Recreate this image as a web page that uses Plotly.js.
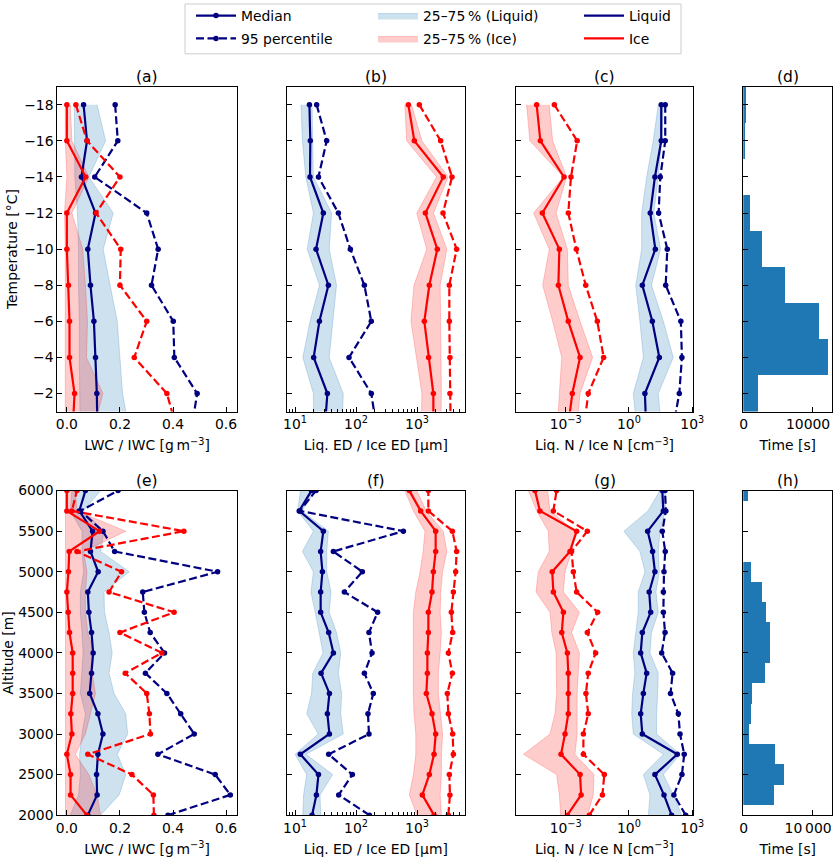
<!DOCTYPE html>
<html>
<head>
<meta charset="utf-8">
<script src="https://cdn.plot.ly/plotly-3.0.1.min.js"></script>
<style>html,body{margin:0;padding:0;background:#fff}</style>
</head>
<body>
<div id="chart" style="width:834px;height:861px"></div>
<script>
// ---- data: temperature profiles (levels in °C) ----
const TEMP = [-18, -16, -14, -12, -10, -8, -6, -4, -2, 0];

const lwcMed = [0.063, 0.076, 0.055, 0.108, 0.079, 0.089, 0.102, 0.108, 0.113, 0.115];
const lwcP95 = [0.182, 0.192, 0.105, 0.301, 0.344, 0.319, 0.401, 0.405, 0.491, 0.469];
const lwcLo  = [0.028, 0.028, 0.030, 0.040, 0.044, 0.044, 0.047, 0.047, 0.050, 0.050];
const lwcHi  = [0.114, 0.146, 0.083, 0.175, 0.137, 0.163, 0.190, 0.200, 0.210, 0.235];
const iwcMed = [0.0, 0.0, 0.071, 0.0, 0.0, 0.006, 0.010, 0.010, 0.029, 0.022];
const iwcP95 = [0.034, 0.076, 0.200, 0.110, 0.203, 0.200, 0.301, 0.254, 0.377, 0.415];
const iwcLo  = [-0.006, -0.006, 0.0, -0.009, -0.006, -0.006, -0.006, -0.006, -0.006, -0.006];
const iwcHi  = [0.013, 0.019, 0.083, 0.019, 0.060, 0.070, 0.078, 0.074, 0.136, 0.100];

const liqEdMed = [17.2, 17.8, 17.6, 29.1, 22.1, 35.2, 25.1, 20.2, 33.9, 30.6];
const liqEdP95 = [22.6, 33.0, 24.2, 51.3, 80.7, 137, 178, 76.7, 178, 219];
const liqEdLo  = [12.5, 13.2, 15.0, 20.0, 15.8, 25.1, 17.6, 13.4, 20.0, 20.0];
const liqEdHi  = [19.0, 19.5, 20.0, 39.8, 36.3, 47.9, 41.4, 36.3, 61.7, 58.9];
const iceEdMed = [721, 904, 2692, 1371, 2153, 1592, 1318, 1549, 1854, 1854];
const iceEdP95 = [1091, 2443, 3750, 2667, 4467, 3388, 3388, 3467, 3467, 3565];
const iceEdLo  = [631, 676, 2089, 989, 1445, 891, 794, 989, 1202, 1175];
const iceEdHi  = [813, 1202, 3236, 1862, 3090, 2399, 2399, 2455, 2512, 2455];

const iceNMed = [4.2e-5, 6.3e-5, 8.3e-4, 7.8e-5, 5.0e-4, 4.5e-4, 1.33e-3, 4.8e-3, 2.06e-3, 1.24e-3];
const iceNP95 = [2.9e-4, 3.5e-3, 1.78e-3, 1.33e-3, 3.2e-3, 8.9e-3, 0.0316, 0.063, 0.0117, 7.1e-3];
const iceNLo  = [1.4e-5, 2.0e-5, 7.8e-4, 3.0e-5, 1.66e-4, 8.1e-5, 2.4e-4, 6.5e-4, 5.0e-4, 4.0e-4];
const iceNHi  = [1.66e-4, 2.4e-4, 1.12e-3, 3.5e-4, 1.2e-3, 1.33e-3, 4.8e-3, 0.019, 4.8e-3, 3.3e-3];
const liqNMed = [33.9, 33.9, 17.0, 10.2, 17.8, 4.3, 12.8, 27.5, 5.7, 6.6];
const liqNP95 = [52.5, 52.5, 30.5, 25.5, 65.6, 55.0, 288, 324, 243, 117];
const liqNLo  = [24.5, 14.1, 6.9, 4.0, 4.0, 2.1, 3.3, 4.8, 1.6, 2.3];
const liqNHi  = [42.7, 35.5, 24.5, 15.1, 31.6, 11.7, 42.7, 126, 24.5, 35.5];

const TEMP_BINS = [-18, -16, -14, -12, -10, -8, -6, -4, -2];
const timeTemp  = [390, 240, 0, 970, 2710, 6040, 10970, 12320, 2090];

// ---- data: altitude profiles (levels in m) ----
const ALT = [2000, 2250, 2500, 2750, 3000, 3250, 3500, 3750, 4000, 4250, 4500, 4750, 5000, 5250, 5500, 5750, 6000];

const altLwcMed = [0.079, 0.114, 0.112, 0.117, 0.136, 0.117, 0.086, 0.093, 0.099, 0.093, 0.083, 0.079, 0.118, 0.089, 0.097, 0.047, 0.070];
const altLwcP95 = [0.381, 0.616, 0.559, 0.343, 0.480, 0.429, 0.377, 0.296, 0.368, 0.314, 0.292, 0.286, 0.568, 0.180, 0.136, 0.051, 0.193];
const altLwcLo  = [0.013, 0.044, 0.051, 0.048, 0.057, 0.070, 0.051, 0.057, 0.061, 0.057, 0.051, 0.051, 0.063, 0.057, 0.057, 0.013, 0.019];
const altLwcHi  = [0.127, 0.197, 0.222, 0.190, 0.229, 0.222, 0.178, 0.159, 0.171, 0.159, 0.142, 0.140, 0.235, 0.127, 0.140, 0.063, 0.127];
const altIwcMed = [0.075, 0.014, 0.014, 0.0, 0.019, 0.015, 0.022, 0.022, 0.022, 0.010, 0.005, 0.0, 0.006, 0.009, 0.123, 0.0, 0.0];
const altIwcP95 = [0.328, 0.326, 0.245, 0.079, 0.315, 0.311, 0.301, 0.220, 0.358, 0.200, 0.404, 0.159, 0.206, 0.038, 0.441, 0.019, 0.038];
const altIwcLo  = [-0.005, -0.005, -0.005, -0.005, -0.005, -0.005, -0.005, -0.005, -0.005, -0.005, -0.005, -0.005, -0.005, -0.005, -0.005, -0.005, -0.005];
const altIwcHi  = [0.127, 0.114, 0.083, 0.032, 0.070, 0.089, 0.108, 0.095, 0.102, 0.079, 0.070, 0.070, 0.076, 0.063, 0.222, 0.038, 0.032];

const altLiqEdMed = [19.0, 22.4, 24.2, 12.2, 36.6, 33.9, 36.6, 26.7, 42.5, 35.6, 26.3, 26.3, 28.1, 26.3, 29.1, 11.7, 18.6];
const altLiqEdP95 = [166, 52.0, 87.1, 35.6, 163, 157, 192, 137, 183, 163, 226, 64.4, 127, 42.5, 597, 12.0, 22.1];
const altLiqEdLo  = [13.4, 13.8, 15.5, 10.0, 24.0, 15.5, 18.6, 19.5, 28.8, 25.1, 21.4, 18.2, 20.0, 13.2, 20.0, 11.0, 12.3];
const altLiqEdHi  = [26.3, 25.7, 41.4, 15.1, 61.7, 56.2, 58.2, 51.3, 56.2, 47.9, 36.3, 38.9, 33.1, 33.1, 35.2, 12.9, 21.4];
const altIceEdMed = [1901, 1222, 1592, 1901, 2023, 1762, 1422, 1479, 1479, 1535, 1535, 1762, 1854, 2023, 2023, 1148, 748];
const altIceEdP95 = [3266, 3467, 3388, 3945, 3846, 3266, 3141, 3802, 3266, 3846, 3656, 3945, 4305, 4467, 3802, 1535, 1535];
const altIceEdLo  = [1000, 748, 871, 955, 955, 891, 871, 871, 851, 851, 871, 955, 1122, 1259, 1349, 871, 631];
const altIceEdHi  = [2512, 2399, 2512, 2512, 2630, 2399, 2239, 2239, 2399, 2512, 2399, 2455, 2630, 3090, 2692, 1413, 989];

const altIceNMed = [1.2e-3, 5.4e-3, 4.8e-3, 6.0e-4, 9.3e-4, 1.33e-3, 1.33e-3, 1.33e-3, 1.2e-3, 6.5e-4, 7.8e-4, 2.6e-4, 2.3e-4, 1.6e-3, 3.3e-3, 6.0e-5, 3.5e-5];
const altIceNP95 = [0.0132, 0.055, 0.0676, 6.9e-3, 6.9e-3, 0.0117, 9.1e-3, 0.0117, 0.0263, 0.0106, 0.0327, 3.3e-3, 2.3e-3, 1.9e-3, 0.0106, 2.6e-4, 3.7e-4];
const altIceNLo  = [5.8e-4, 5.0e-4, 3.7e-4, 1.0e-5, 1.8e-4, 3.1e-4, 3.7e-4, 3.5e-4, 3.5e-4, 2.2e-4, 1.8e-4, 3.9e-5, 5.0e-5, 1.66e-4, 1.5e-4, 4.2e-5, 1.7e-5];
const altIceNHi  = [0.011, 0.0204, 0.0219, 2.75e-3, 3.5e-3, 3.5e-3, 3.5e-3, 4.0e-3, 4.5e-3, 1.9e-3, 4.5e-3, 7.8e-4, 9.3e-4, 1.9e-3, 2.75e-3, 1.8e-4, 1.4e-4];
const altLiqNMed = [105, 45.7, 17.0, 195, 4.3, 3.6, 4.8, 6.9, 3.6, 4.3, 10.7, 9.1, 17.0, 13.2, 7.7, 42.7, 38.0];
const altLiqNP95 = [490, 135, 324, 417, 263, 219, 93.3, 117, 35.5, 51.3, 42.7, 42.7, 45.7, 52.5, 38.0, 56.2, 51.3];
const altLiqNLo  = [8.3, 9.9, 4.8, 42.7, 1.6, 1.35, 1.48, 1.9, 1.6, 2.14, 2.75, 2.75, 5.75, 3.3, 0.575, 7.9, 29.5];
const altLiqNHi  = [316, 126, 42.7, 263, 20.4, 20.4, 22.9, 24.5, 9.9, 11.7, 24.5, 19.1, 27.5, 24.5, 29.5, 52.5, 55];

const timeAlt = [0, 4440, 5890, 4590, 820, 1060, 1210, 3090, 3820, 3850, 3240, 2660, 1060, 0, 0, 0, 630];

// ---- styling ----
const W = 834, H = 861;
const FONT = "DejaVu Sans, sans-serif";
const FS = 13.9;
const NAVY = "#000080";
const RED = "#ff0000";
const LIQ_FILL = "rgba(31,119,180,0.22)";
const ICE_FILL = "rgba(255,0,0,0.2)";
const BAR = "#1f77b4";
const DASH = "8px,3.5px";

const xd = (a, b) => [a / W, b / W];
const yd = (top, bottom) => [1 - bottom / H, 1 - top / H];

const COLS = [xd(57.3, 236.7), xd(286.7, 465), xd(515.7, 693.3), xd(743.3, 832.3)];
const ROWS = [yd(84, 410), yd(489.3, 815)];

const ax = n => (n === 1 ? "" : String(n));

function band(lo, hi, y, fill, n, extra) {
    return Object.assign({
        x: lo.concat(hi.slice().reverse()),
        y: y.concat(y.slice().reverse()),
        xaxis: "x" + ax(n),
        yaxis: "y" + ax(n),
        type: "scatter",
        mode: "lines",
        fill: "toself",
        fillcolor: fill,
        line: {color: fill, width: 1},
        hoverinfo: "skip",
        showlegend: false
    }, extra || {});
}

function profile(x, y, color, dashed, n, extra) {
    return Object.assign({
        x, y,
        xaxis: "x" + ax(n),
        yaxis: "y" + ax(n),
        type: "scatter",
        mode: "lines+markers",
        line: {color, width: 2.2, dash: dashed ? DASH : "solid"},
        marker: {color, size: 5.5},
        showlegend: false
    }, extra || {});
}

// one legend per entry, so that rows and columns sit where the reference has them
const inLegend = (name, legend) => ({name, showlegend: true, legend});

function panel(n, y, lLo, lHi, lMed, lP95, iLo, iHi, iMed, iP95, withLegend) {
    return [
        band(lLo, lHi, y, LIQ_FILL, n, withLegend ? inLegend("25–75\u2009% (Liquid)", "legend3") : null),
        band(iLo, iHi, y, ICE_FILL, n, withLegend ? inLegend("25–75\u2009% (Ice)", "legend4") : null),
        profile(lMed, y, NAVY, false, n, withLegend ? inLegend("Median", "legend") : null),
        profile(lP95, y, NAVY, true, n, withLegend ? inLegend("95 percentile", "legend2") : null),
        profile(iMed, y, RED, false, n),
        profile(iP95, y, RED, true, n)
    ];
}

function hist(x, y, width, n) {
    return {
        x, y, width,
        type: "bar",
        orientation: "h",
        xaxis: "x" + n,
        yaxis: "y" + n,
        marker: {color: BAR, line: {width: 0}},
        hoverinfo: "skip",
        showlegend: false
    };
}

const traces = [].concat(
    panel(1, TEMP, lwcLo, lwcHi, lwcMed, lwcP95, iwcLo, iwcHi, iwcMed, iwcP95, true),
    panel(2, TEMP, liqEdLo, liqEdHi, liqEdMed, liqEdP95, iceEdLo, iceEdHi, iceEdMed, iceEdP95),
    panel(3, TEMP, liqNLo, liqNHi, liqNMed, liqNP95, iceNLo, iceNHi, iceNMed, iceNP95),
    [hist(timeTemp, TEMP_BINS, 2, 4)],
    panel(5, ALT, altLwcLo, altLwcHi, altLwcMed, altLwcP95, altIwcLo, altIwcHi, altIwcMed, altIwcP95),
    panel(6, ALT, altLiqEdLo, altLiqEdHi, altLiqEdMed, altLiqEdP95, altIceEdLo, altIceEdHi, altIceEdMed, altIceEdP95),
    panel(7, ALT, altLiqNLo, altLiqNHi, altLiqNMed, altLiqNP95, altIceNLo, altIceNHi, altIceNMed, altIceNP95),
    [hist(timeAlt, ALT, 250, 8)],
    [
        Object.assign({x: [null], y: [null], type: "scatter", mode: "lines",
            line: {color: NAVY, width: 2.2}}, inLegend("Liquid", "legend5")),
        Object.assign({x: [null], y: [null], type: "scatter", mode: "lines",
            line: {color: RED, width: 2.2}}, inLegend("Ice", "legend6"))
    ]
);

// ---- axes ----
const LOG_MINOR = [];
for (let e = 0; e <= 3; e++) {
    for (let m = 2; m <= 9; m++) LOG_MINOR.push(m * Math.pow(10, e));
}

function axis(extra) {
    return Object.assign({
        showline: true, mirror: true, linecolor: "#000", linewidth: 1,
        ticks: "inside", ticklen: 5, tickwidth: 1, tickcolor: "#000",
        showgrid: false, zeroline: false, fixedrange: true,
        ticklabeloverflow: "allow",
        tickfont: {family: FONT, size: FS, color: "#000"}
    }, extra);
}

function xtitle(text) {
    return {text, font: {family: FONT, size: FS, color: "#000"}, standoff: 9};
}

const lwcAxis = {
    range: [-0.036, 0.64], tickmode: "array",
    tickvals: [0, 0.2, 0.4, 0.6], ticktext: ["0.0", "0.2", "0.4", "0.6"],
    title: xtitle("LWC / IWC [g\u2009m<sup>−3</sup>]")
};
const edAxis = {
    type: "log", range: [0.863, 3.787], tickmode: "array",
    tickvals: [10, 100, 1000], ticktext: ["10<sup>1</sup>", "10<sup>2</sup>", "10<sup>3</sup>"],
    minor: {ticks: "inside", ticklen: 3, tickcolor: "#000", tickmode: "array", tickvals: LOG_MINOR, showgrid: false},
    title: xtitle("Liq. ED / Ice ED [µm]")
};
const nAxis = {
    type: "log", range: [-5.37, 3.05], tickmode: "array",
    tickvals: [1e-3, 1, 1e3], ticktext: ["10<sup>−3</sup>", "10<sup>0</sup>", "10<sup>3</sup>"],
    title: xtitle("Liq. N / Ice N [cm<sup>−3</sup>]")
};
// labels nudged left so the right-hand one stays inside the figure, as in the reference
const timeAxis = (label) => ({
    range: [0, 12936], tickmode: "array",
    tickvals: [0, 10000], ticktext: ["\u00A0\u00A00", label],
    ticklabelshift: -4,
    title: xtitle("Time [s]")
});

const tempY = {
    range: [-1, -19], tickmode: "array", tickvals: TEMP_BINS
};
const altY = {
    range: [2000, 6000], tickmode: "array",
    tickvals: [2000, 2500, 3000, 3500, 4000, 4500, 5000, 5500, 6000]
};
const ytitle = text => ({text, font: {family: FONT, size: FS, color: "#000"}, standoff: 3});

function legendAt(xPx, yPx) {
    return {
        x: xPx / W, y: 1 - yPx / H, xanchor: "left", yanchor: "middle",
        bgcolor: "rgba(0,0,0,0)", borderwidth: 0, itemwidth: 40,
        font: {family: FONT, size: FS, color: "#000"}
    };
}

const layout = {
    width: W, height: H,
    margin: {l: 0, r: 0, t: 0, b: 0},
    paper_bgcolor: "#fff",
    plot_bgcolor: "#fff",
    font: {family: FONT, size: FS, color: "#000"},
    hovermode: false,
    bargap: 0,

    xaxis:  axis(Object.assign({domain: COLS[0], anchor: "y"}, lwcAxis)),
    xaxis2: axis(Object.assign({domain: COLS[1], anchor: "y2"}, edAxis)),
    xaxis3: axis(Object.assign({domain: COLS[2], anchor: "y3"}, nAxis)),
    xaxis4: axis(Object.assign({domain: COLS[3], anchor: "y4"}, timeAxis("10000"))),
    xaxis5: axis(Object.assign({domain: COLS[0], anchor: "y5"}, lwcAxis)),
    xaxis6: axis(Object.assign({domain: COLS[1], anchor: "y6"}, edAxis)),
    xaxis7: axis(Object.assign({domain: COLS[2], anchor: "y7"}, nAxis)),
    xaxis8: axis(Object.assign({domain: COLS[3], anchor: "y8"}, timeAxis("10\u2009000"))),

    yaxis:  axis(Object.assign({domain: ROWS[0], anchor: "x", title: ytitle("Temperature [°C]")}, tempY)),
    yaxis2: axis(Object.assign({domain: ROWS[0], anchor: "x2", showticklabels: false}, tempY)),
    yaxis3: axis(Object.assign({domain: ROWS[0], anchor: "x3", showticklabels: false}, tempY)),
    yaxis4: axis(Object.assign({domain: ROWS[0], anchor: "x4", showticklabels: false}, tempY)),
    yaxis5: axis(Object.assign({domain: ROWS[1], anchor: "x5", title: ytitle("Altitude [m]")}, altY)),
    yaxis6: axis(Object.assign({domain: ROWS[1], anchor: "x6", showticklabels: false}, altY)),
    yaxis7: axis(Object.assign({domain: ROWS[1], anchor: "x7", showticklabels: false}, altY)),
    yaxis8: axis(Object.assign({domain: ROWS[1], anchor: "x8", showticklabels: false}, altY)),

    legend:  legendAt(191, 13),
    legend2: legendAt(191, 36),
    legend3: legendAt(373, 13),
    legend4: legendAt(373, 36),
    legend5: legendAt(579, 13),
    legend6: legendAt(579, 36),

    shapes: [{
        type: "rect", xref: "paper", yref: "paper", layer: "below",
        x0: 185 / W, x1: 681 / W, y0: 1 - 51 / H, y1: 1 - 1 / H,
        line: {color: "#cccccc", width: 1}, fillcolor: "#fff"
    }],

    annotations: ["(a)", "(b)", "(c)", "(d)", "(e)", "(f)", "(g)", "(h)"].map((t, i) => ({
        text: t, xref: "paper", yref: "paper",
        x: (COLS[i % 4][0] + COLS[i % 4][1]) / 2,
        y: ROWS[Math.floor(i / 4)][1],
        xanchor: "center", yanchor: "bottom", yshift: -1, showarrow: false,
        font: {family: FONT, size: 15.5, color: "#000"}
    }))
};

Plotly.newPlot("chart", traces, layout, {staticPlot: true, displayModeBar: false});
</script>
</body>
</html>
